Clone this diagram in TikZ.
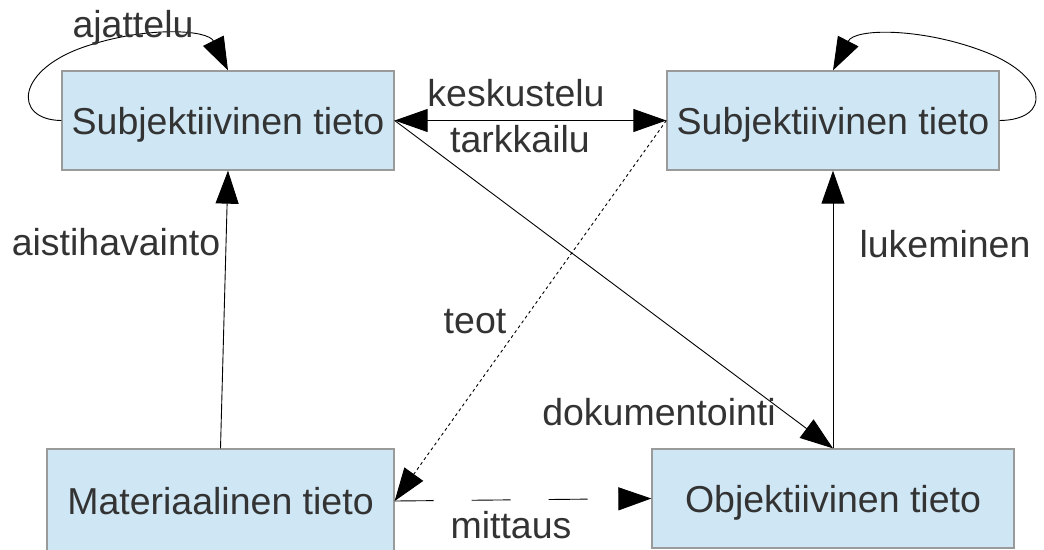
\documentclass[tikz,border=0pt]{standalone}
\usepackage{fontspec}
\setmainfont{Liberation Sans}
\usetikzlibrary{arrows.meta}
\definecolor{boxfill}{HTML}{CFE7F5}
\definecolor{boxline}{HTML}{9A9A9A}
\definecolor{ink}{HTML}{333333}
\tikzset{
  box/.style={draw=boxline, line width=1.3pt, fill=boxfill, text=ink,
    inner sep=0pt, text height=27pt, text depth=0pt,
    font=\fontsize{37.5}{45}\selectfont},
  lbl/.style={text=ink, anchor=base, inner sep=0pt,
    font=\fontsize{37.5}{45}\selectfont},
  tip/.style={-{Triangle[length=33pt,width=23pt]}},
  conn/.style={line width=0.9pt, black},
}
\begin{document}
\begin{tikzpicture}[x=1pt,y=-1pt]
  \useasboundingbox (0,0) rectangle (1044,549);
  \clip (0,0) rectangle (1044,549);

  % knowledge boxes
  \node[box, minimum width=332pt, minimum height=99pt] (sub1) at (228,120.5) {Subjektiivinen tieto};
  \node[box, minimum width=332pt, minimum height=99pt] (sub2) at (833,120.5) {Subjektiivinen tieto};
  \node[box, minimum width=347pt, minimum height=104pt] (mat) at (220.5,501) {Materiaalinen tieto};
  \node[box, minimum width=362pt, minimum height=99pt] (obj) at (833,498.5) {Objektiivinen tieto};

  % self loops
  \draw[conn, tip] (sub1.west) .. controls (12,120) and (15,68) .. (90,45)
        .. controls (150,26) and (208,30) .. (sub1.north);
  \draw[conn, tip] (sub2.east) .. controls (1052,120) and (1050,75) .. (980,50)
        .. controls (920,28) and (855,28) .. (sub2.north);

  % connections
  \draw[conn, {Triangle[length=33pt,width=23pt]}-{Triangle[length=33pt,width=23pt]}] (sub1.east) -- (sub2.west);
  \draw[conn, tip] (sub1.east) -- (obj.north);
  \draw[conn, tip] (mat.north) -- (sub1.south);
  \draw[conn, tip] (obj.north) -- (sub2.south);
  \draw[conn, tip, dash pattern=on 3pt off 3pt] (sub2.west) -- (mat.east);
  \draw[conn, tip, dash pattern=on 39pt off 38pt] (mat.east) -- (obj.west);

  % labels
  \node[lbl] (l1) at (133,37) {ajattelu};
  \node[lbl] (l2) at (516,106) {keskustelu};
  \node[lbl] (l3) at (520,152) {tarkkailu};
  \node[lbl] (l4) at (116,255) {aistihavainto};
  \node[lbl] (l5) at (945,257) {lukeminen};
  \node[lbl] (l6) at (475,333) {teot};
  \node[lbl] (l7) at (659,425) {dokumentointi};
  \node[lbl] (l8) at (511,538) {mittaus};
\end{tikzpicture}
\end{document}
